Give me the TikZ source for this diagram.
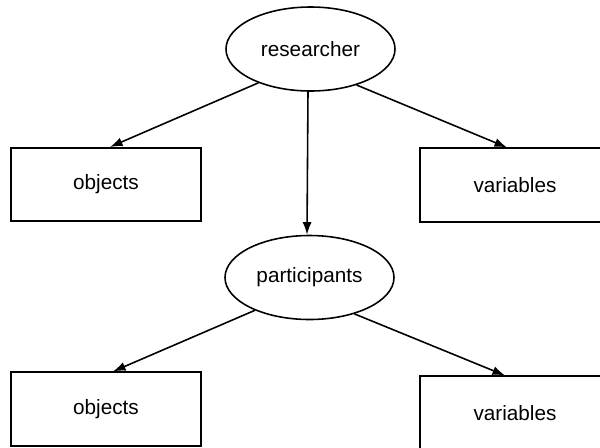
\documentclass[tikz,border=0pt]{standalone}
\usepackage{fontspec}
\setmainfont{Liberation Sans}
\usetikzlibrary{arrows.meta, positioning, shapes.geometric}
\tikzset{%
	actor node/.style={
		ellipse,
		draw,
		minimum width=3.38cm,
		minimum height=1.68cm,
		inner sep=0pt
	},
	item box/.style={
		rectangle,
		draw,
		minimum width=3.8cm,
		minimum height=1.47cm
	},
	link/.style={
		-{Latex[length=2.5mm,width=1.8mm]}
	},
}

\begin{document}
\begin{tikzpicture}[
				line width=0.9pt,
				font=\fontsize{11.8}{14}\selectfont
				]
				\clip (0,0) rectangle (12,-8.94);
				% upper level
				\node[actor node] (researcher) at (6.21,-0.98) {researcher};
				\node[item box] (objects top) at (2.12,-3.69) {objects};
				\node[item box] (variables top) at (10.3,-3.7) {variables};
				% lower level
				\node[actor node] (participants) at (6.19,-5.55) {participants};
				\node[item box] (objects bottom) at (2.12,-8.18) {objects};
				\node[item box] (variables bottom) at (10.3,-8.26) {variables};
				\draw[link] (researcher.213) -- ([xshift=0.08cm]objects top.north);
				\draw[link] (researcher.322) -- ([xshift=-0.16cm]variables top.north);
				\draw[link] ([xshift=-0.05cm]researcher.south) -- ([xshift=-0.05cm]participants.north);
				\draw[link] (participants.211) -- ([xshift=0.14cm]objects bottom.north);
				\draw[link] (participants.321) -- ([xshift=-0.2cm]variables bottom.north);
			\end{tikzpicture}
\end{document}
